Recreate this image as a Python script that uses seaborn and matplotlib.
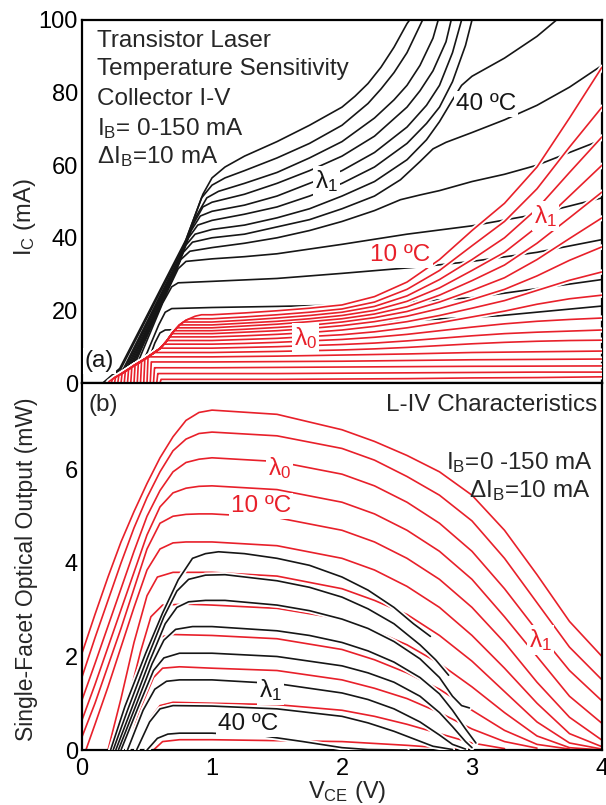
import numpy as np
import matplotlib
matplotlib.use("Agg")
import matplotlib.pyplot as plt
import seaborn as sns

sns.set_style("white")
plt.rcParams['font.family'] = ['Liberation Sans', 'DejaVu Sans']
plt.rcParams['mathtext.fontset'] = 'custom'
plt.rcParams['mathtext.rm'] = 'Liberation Sans'
plt.rcParams['mathtext.it'] = 'Liberation Sans:italic'
plt.rcParams['mathtext.bf'] = 'Liberation Sans:bold'
plt.rcParams['mathtext.default'] = 'regular'

# ---------------- (a) collector I-V, 40 C (black) ----------------
TB_V = [
    [0.16, 0.29, 0.80, 0.93, 1.00, 1.10, 1.25, 1.50, 1.75, 2.00, 2.10, 2.20, 2.30, 2.40, 2.50, 2.52],
    [0.18, 0.30, 0.78, 0.92, 1.00, 1.10, 1.25, 1.50, 1.75, 2.00, 2.10, 2.20, 2.30, 2.40, 2.50, 2.62],
    [0.20, 0.32, 0.76, 0.88, 0.96, 1.05, 1.25, 1.50, 1.75, 2.00, 2.25, 2.40, 2.50, 2.60, 2.70, 2.74],
    [0.21, 0.33, 0.74, 0.86, 0.93, 1.00, 1.25, 1.50, 1.75, 2.00, 2.25, 2.50, 2.60, 2.70, 2.80, 2.84],
    [0.22, 0.34, 0.72, 0.84, 0.91, 1.00, 1.25, 1.50, 1.75, 2.00, 2.25, 2.50, 2.65, 2.75, 2.85, 2.92],
    [0.23, 0.35, 0.70, 0.82, 0.89, 1.00, 1.25, 1.50, 1.75, 2.00, 2.25, 2.50, 2.65, 2.75, 2.85, 2.95, 3.00],
    [0.24, 0.36, 0.69, 0.80, 0.87, 1.00, 1.25, 1.50, 1.75, 2.00, 2.25, 2.50, 2.65, 2.75, 2.85, 2.92, 3.00, 3.25, 3.50, 3.65],
    [0.25, 0.37, 0.68, 0.78, 0.85, 1.00, 1.25, 1.50, 1.75, 2.00, 2.25, 2.45, 2.60, 2.70, 2.80, 3.00, 3.25, 3.50, 3.75, 4.00],
    [0.26, 0.38, 0.67, 0.76, 0.83, 1.00, 1.25, 1.50, 1.75, 2.00, 2.25, 2.45, 2.60, 2.75, 3.00, 3.25, 3.50, 3.75, 4.00],
    [0.27, 0.39, 0.66, 0.74, 0.80, 1.00, 1.25, 1.50, 2.00, 2.50, 3.00, 3.50, 4.00],
    [0.29, 0.41, 0.62, 0.69, 0.74, 1.00, 1.50, 2.00, 2.60, 3.00, 3.50, 4.00],
    [0.33, 0.45, 0.59, 0.64, 0.69, 1.00, 1.50, 2.20, 3.00, 4.00],
    [0.37, 0.49, 0.56, 0.60, 0.64, 1.00, 2.00, 3.20, 4.00],
]
TB_I = [
    [0, 4, 39.5, 52, 56.5, 59.5, 62.5, 66.5, 71, 76, 79, 82.5, 87, 92.5, 99, 100],
    [0, 4, 37.5, 51, 54.5, 56.5, 58.5, 62, 66, 71, 74, 77, 81, 85.5, 91, 100],
    [0, 4, 35.5, 46, 51, 52.8, 55, 58, 62, 66.5, 73, 78, 82, 87.5, 95, 100],
    [0, 4, 33.5, 44, 48.5, 49.8, 52, 55, 58.5, 62.5, 68, 76, 80.5, 86, 94, 100],
    [0, 4, 31.5, 42, 46, 47.3, 49, 51.5, 55, 58.5, 63.5, 70.5, 76.5, 82, 91, 100],
    [0, 4, 29.5, 40, 43.5, 44.8, 46.5, 48.5, 51.5, 55, 59.5, 66, 71.5, 76, 83, 93, 100],
    [0, 4, 28.5, 38, 41, 42.3, 43.5, 45.5, 48, 51.5, 55.5, 61.5, 67, 72, 78, 82, 84.5, 89.5, 95.5, 100],
    [0, 4, 27.5, 36, 38.8, 40, 41, 43, 45, 48, 51.5, 56, 61, 64.5, 66.3, 69, 72.5, 76.5, 81.5, 87.5],
    [0, 4, 26.5, 34, 36.3, 37.3, 38.5, 40, 42, 44.5, 47.5, 50.5, 51.8, 53, 55.5, 57.5, 60, 63.5, 67],
    [0, 4, 25.5, 31.5, 33.5, 34.2, 34.8, 35.6, 38.2, 41, 43.3, 46.5, 51],
    [0, 4, 22, 26.5, 27.6, 28, 28.8, 30.2, 32, 33.5, 36, 39.5],
    [0, 4, 16, 19.5, 20.5, 20.8, 21.1, 21.6, 23.5, 28.5],
    [0, 4, 11, 13.8, 14.6, 15, 16.2, 18.5, 21.2],
]

# ---------------- (a) collector I-V, 10 C (red) ----------------
RED_START_V = [0.6, 0.575, 0.55, 0.525, 0.5, 0.475, 0.45, 0.425, 0.4, 0.375,
               0.35, 0.325, 0.3, 0.275, 0.25, 0.225, 0.2]
RED_RISE_TOP = [1.0, 2.6, 4.2, 5.8, 7.0, 6.4, 5.9, 5.3, 4.8, 4.2,
                3.6, 3.1, 2.5, 2.0, 1.5, 0.9, 0.4]
RED_KNEE_V = [0.61, 0.585, 0.56, 0.535, 0.52, 0.56, 0.61, 0.63, 0.655, 0.675,
              0.69, 0.71, 0.73, 0.75, 0.78, 0.83, 0.92]
RED_ENV_V = [0.25, 0.3, 0.4, 0.5, 0.6, 0.65, 0.7, 0.75, 0.8, 0.87]
RED_ENV_I = [1.5, 2.5, 4.8, 7.0, 9.5, 11.5, 14.0, 16.0, 17.3, 18.4]
RED_V = [1.0, 1.25, 1.5, 1.75, 2.0, 2.25, 2.5, 2.75, 3.0, 3.25, 3.5, 3.75, 4.0]
RED_I = [
    [1.0, 1.0, 1.0, 1.05, 1.1, 1.15, 1.2, 1.3, 1.4, 1.45, 1.5, 1.6, 1.7],
    [2.6, 2.6, 2.6, 2.65, 2.7, 2.75, 2.8, 2.85, 2.9, 2.95, 3.0, 3.0, 3.0],
    [4.2, 4.25, 4.3, 4.35, 4.4, 4.45, 4.5, 4.55, 4.6, 4.62, 4.65, 4.68, 4.7],
    [5.8, 5.85, 5.9, 5.95, 6.0, 6.1, 6.2, 6.3, 6.4, 6.45, 6.5, 6.55, 6.6],
    [7.2, 7.3, 7.4, 7.55, 7.7, 7.85, 8.0, 8.2, 8.4, 8.5, 8.6, 8.7, 8.8],
    [8.4, 8.55, 8.7, 8.9, 9.1, 9.4, 9.8, 10.3, 10.8, 11.2, 11.5, 11.7, 11.8],
    [9.6, 9.8, 10.0, 10.3, 10.6, 11.0, 11.6, 12.3, 13.0, 13.6, 14.0, 14.3, 14.6],
    [10.7, 10.9, 11.2, 11.6, 12.0, 12.6, 13.4, 14.4, 15.4, 16.3, 17.0, 17.5, 17.9],
    [11.7, 12.0, 12.3, 12.8, 13.3, 14.1, 15.2, 16.6, 18.2, 19.8, 21.7, 23.2, 24.2],
    [12.7, 13.0, 13.4, 13.9, 14.6, 15.6, 16.9, 18.6, 20.6, 22.7, 25.5, 28.3, 30.6],
    [13.6, 14.0, 14.4, 15.0, 15.8, 16.9, 18.4, 20.5, 23.0, 25.8, 29.5, 33.8, 37.5],
    [14.4, 14.8, 15.3, 15.9, 16.8, 18.0, 19.7, 22.3, 25.5, 29.0, 34.0, 39.8, 45.5],
    [15.2, 15.7, 16.2, 16.9, 17.7, 19.0, 21.0, 24.2, 28.2, 32.5, 38.5, 45.5, 52.6],
    [16.0, 16.5, 17.0, 17.7, 18.6, 20.0, 22.5, 26.2, 31.0, 36.0, 43.0, 51.5, 60.0],
    [16.8, 17.3, 17.9, 18.6, 19.5, 21.1, 24.0, 28.5, 34.0, 40.0, 48.0, 58.0, 67.8],
    [17.7, 18.2, 18.8, 19.5, 20.4, 22.3, 25.8, 31.0, 37.8, 44.5, 53.5, 65.0, 76.0],
    [18.8, 19.3, 19.9, 20.6, 21.5, 23.8, 27.8, 34.0, 42.0, 49.5, 59.5, 73.0, 87.0],
]

# ---------------- (b) L-IV, 10 C (red) ----------------
BR_GRID = [0.0, 0.1, 0.2, 0.3, 0.4, 0.5, 0.6, 0.7, 0.8, 0.9, 1.0, 1.5, 2.0, 2.25,
           2.5, 2.75, 3.0, 3.25, 3.5, 3.75, 4.0]
BR_V = [
    BR_GRID, BR_GRID, BR_GRID, BR_GRID, BR_GRID,
    [0.03, 0.1, 0.2, 0.3, 0.4, 0.5, 0.6, 0.7, 0.8, 0.9, 1.0, 1.5, 2.0, 2.25, 2.5, 2.75, 3.0, 3.25, 3.5, 3.75, 4.0],
    [0.2, 0.3, 0.4, 0.5, 0.58, 0.7, 1.0, 1.5, 2.0, 2.25, 2.5, 2.75, 3.0, 3.25, 3.5, 3.75, 4.0],
    [0.25, 0.35, 0.45, 0.53, 0.62, 0.8, 1.0, 1.5, 2.0, 2.25, 2.5, 2.75, 3.0, 3.25, 3.5, 3.75, 4.0],
    [0.3, 0.4, 0.5, 0.57, 0.7, 1.0, 1.5, 2.0, 2.25, 2.5, 2.75, 3.0, 3.25, 3.5, 3.75],
    [0.35, 0.45, 0.55, 0.62, 0.75, 1.0, 1.5, 2.0, 2.25, 2.5, 2.75, 3.0, 3.25, 3.5],
    [0.42, 0.52, 0.6, 0.7, 1.0, 1.5, 2.0, 2.25, 2.5, 2.75, 3.0, 3.25],
    [0.55, 0.62, 0.75, 1.0, 1.5, 2.0, 2.5, 2.75, 3.0],
]
BR_L = [
    [2.07, 2.9, 3.7, 4.45, 5.1, 5.7, 6.25, 6.7, 7.05, 7.22, 7.27, 7.18, 6.85, 6.6, 6.3, 5.95, 5.45, 4.7, 3.75, 2.75, 2.0],
    [1.56, 2.4, 3.2, 4.0, 4.75, 5.4, 5.95, 6.4, 6.65, 6.77, 6.8, 6.72, 6.45, 6.2, 5.85, 5.45, 4.9, 4.1, 3.15, 2.2, 1.5],
    [1.07, 1.85, 2.65, 3.45, 4.25, 5.0, 5.55, 5.95, 6.15, 6.22, 6.25, 6.17, 5.9, 5.65, 5.3, 4.85, 4.25, 3.45, 2.55, 1.7, 1.05],
    [0.64, 1.4, 2.2, 3.0, 3.8, 4.6, 5.2, 5.5, 5.6, 5.64, 5.65, 5.57, 5.3, 5.05, 4.7, 4.25, 3.65, 2.85, 2.0, 1.15, 0.57],
    [0.28, 1.0, 1.8, 2.6, 3.45, 4.3, 4.85, 5.0, 5.04, 5.05, 5.05, 4.97, 4.7, 4.45, 4.1, 3.65, 3.05, 2.3, 1.45, 0.7, 0.21],
    [0.0, 0.55, 1.35, 2.2, 3.05, 3.85, 4.3, 4.43, 4.45, 4.45, 4.45, 4.37, 4.1, 3.85, 3.5, 3.05, 2.45, 1.75, 1.0, 0.35, 0.07],
    [0.0, 1.1, 2.3, 3.3, 3.7, 3.8, 3.8, 3.72, 3.45, 3.2, 2.9, 2.45, 1.9, 1.25, 0.6, 0.15, 0.02],
    [0.0, 1.0, 2.1, 2.85, 3.1, 3.12, 3.1, 3.03, 2.8, 2.55, 2.25, 1.85, 1.35, 0.8, 0.3, 0.05, 0.0],
    [0.0, 1.0, 1.95, 2.4, 2.47, 2.45, 2.38, 2.15, 1.93, 1.65, 1.3, 0.85, 0.42, 0.12, 0.02],
    [0.0, 0.9, 1.55, 1.75, 1.78, 1.75, 1.7, 1.5, 1.32, 1.1, 0.8, 0.45, 0.18, 0.04],
    [0.0, 0.65, 0.95, 1.02, 1.0, 0.97, 0.85, 0.72, 0.55, 0.35, 0.15, 0.03],
    [0.0, 0.18, 0.22, 0.22, 0.2, 0.18, 0.1, 0.05, 0.01],
]

# ---------------- (b) L-IV, 40 C (black) ----------------
BB_V = [
    [0.22, 0.33, 0.49, 0.62, 0.74, 0.85, 0.95, 1.05, 1.25, 1.5, 1.75, 2.0, 2.2, 2.4, 2.55, 2.68],
    [0.24, 0.35, 0.5, 0.63, 0.73, 0.82, 0.95, 1.1, 1.5, 1.75, 2.0, 2.2, 2.4, 2.6, 2.72, 2.82],
    [0.26, 0.37, 0.52, 0.64, 0.73, 0.82, 0.95, 1.1, 1.5, 1.75, 2.0, 2.2, 2.4, 2.6, 2.75, 2.85, 2.92, 2.98],
    [0.28, 0.4, 0.54, 0.63, 0.72, 0.85, 1.0, 1.5, 1.75, 2.0, 2.2, 2.4, 2.6, 2.75, 2.85, 2.95, 3.03],
    [0.3, 0.43, 0.55, 0.63, 0.75, 1.0, 1.5, 2.0, 2.2, 2.4, 2.6, 2.75, 2.85, 2.95, 3.0],
    [0.35, 0.47, 0.56, 0.65, 0.75, 1.0, 1.5, 2.0, 2.2, 2.4, 2.6, 2.75, 2.85, 2.95],
    [0.42, 0.52, 0.6, 0.7, 1.0, 1.5, 2.0, 2.2, 2.4, 2.55, 2.7, 2.85],
    [0.5, 0.58, 0.66, 0.75, 1.0, 1.4, 1.7, 2.0, 2.2, 2.5],
]
BB_L = [
    [0, 0.93, 2.07, 2.93, 3.64, 4.1, 4.2, 4.24, 4.2, 4.1, 3.95, 3.7, 3.42, 3.05, 2.7, 2.43],
    [0, 0.85, 1.95, 2.85, 3.4, 3.65, 3.74, 3.75, 3.62, 3.48, 3.27, 3.02, 2.7, 2.25, 1.93, 1.6],
    [0, 0.8, 1.9, 2.7, 3.05, 3.17, 3.2, 3.2, 3.1, 2.98, 2.8, 2.6, 2.32, 1.95, 1.55, 1.15, 0.95, 0.9],
    [0, 0.85, 1.85, 2.35, 2.58, 2.64, 2.64, 2.55, 2.45, 2.3, 2.12, 1.88, 1.55, 1.2, 0.85, 0.45, 0.15],
    [0, 0.9, 1.7, 1.97, 2.07, 2.07, 2.0, 1.8, 1.65, 1.45, 1.15, 0.8, 0.5, 0.18, 0.05],
    [0, 0.85, 1.3, 1.47, 1.5, 1.5, 1.42, 1.22, 1.08, 0.88, 0.6, 0.32, 0.12, 0.02],
    [0, 0.6, 0.88, 0.95, 0.94, 0.88, 0.72, 0.58, 0.4, 0.24, 0.08, 0.01],
    [0, 0.25, 0.34, 0.36, 0.36, 0.3, 0.18, 0.05, 0.01, 0.0],
]

RED = '#e8202a'
BLK = '#161616'
LW = 1.2
HALO = 3.8


def add_curve(ax, v, y, color, lw, z):
    sns.lineplot(x=np.asarray(v, float), y=np.asarray(y, float), ax=ax,
                 color=color, linewidth=lw, sort=False, estimator=None,
                 legend=False, zorder=z)
    ln = ax.lines[-1]
    ln.set_solid_capstyle('round')
    ln.set_solid_joinstyle('round')


def red_top_curve(k):
    c = RED_START_V[k]
    lev = RED_I[k][0]
    vs = [c, c + 0.008]
    ys = [0.0, RED_RISE_TOP[k]]
    for ev, ei in zip(RED_ENV_V, RED_ENV_I):
        if ev > c + 0.008 and ei < lev:
            vs.append(ev)
            ys.append(ei)
    vs.append(RED_KNEE_V[k])
    ys.append(lev)
    vs += RED_V
    ys += RED_I[k]
    return vs, ys


W, H = 606, 805
fig = plt.figure(figsize=(W / 100, H / 100), dpi=100)
ax1 = fig.add_axes([82 / W, 1 - 383 / H, 520 / W, 363 / H])
ax2 = fig.add_axes([82 / W, 1 - 750 / H, 520 / W, 367 / H])

# ---- panel (a): black first, then red with white halo on top
for v, y in zip(TB_V, TB_I):
    add_curve(ax1, v, y, BLK, LW, 2)
for k in range(len(RED_I)):
    v, y = red_top_curve(k)
    add_curve(ax1, v, y, 'white', HALO, 3)
for k in range(len(RED_I)):
    v, y = red_top_curve(k)
    add_curve(ax1, v, y, RED, LW, 4)

# ---- panel (b): red first, then black with white halo on top
for v, y in zip(BR_V, BR_L):
    add_curve(ax2, v, y, RED, LW, 2)
for v, y in zip(BB_V, BB_L):
    add_curve(ax2, v, y, 'white', HALO, 3)
for v, y in zip(BB_V, BB_L):
    add_curve(ax2, v, y, BLK, LW, 4)

FS = 17
box = dict(boxstyle='square,pad=0.08', fc='white', ec='none')

for ax in (ax1, ax2):
    ax.set_xlim(0, 4)
    for s in ax.spines.values():
        s.set_linewidth(1.6)
        s.set_color('black')
    ax.tick_params(axis='both', direction='in', length=4.5, width=1.2,
                   labelsize=FS, colors='black')
    ax.tick_params(axis='y', pad=3)
    ax.tick_params(axis='x', pad=6)
    ax.set_xticks([0, 1, 2, 3, 4])
    ax.set_xlabel('')
    ax.set_ylabel('')

ax1.set_ylim(0, 100)
ax1.set_yticks([0, 20, 40, 60, 80, 100])
ax1.tick_params(axis='x', labelbottom=False)
ax2.set_ylim(0, 7.85)
ax2.set_yticks([0, 2, 4, 6])
ax2.set_xticklabels(['0', '1', '2', '3', '4'])

ax1.set_ylabel('I$_C$ (mA)', fontsize=FS)
ax1.yaxis.set_label_coords(-0.085, 0.457)
ax2.set_ylabel('Single-Facet Optical Output (mW)', fontsize=16.5)
ax2.yaxis.set_label_coords(-0.085, 0.493)
ax2.set_xlabel('V$_{CE}$ (V)', fontsize=FS)
ax2.xaxis.set_label_coords(0.51, -0.078)

# ---- texts panel (a)
tx = dict(fontsize=17.5, va='baseline', zorder=10)
ax1.text(0.115, 92.5, 'Transistor Laser', **tx)
ax1.text(0.115, 84.8, 'Temperature Sensitivity', **tx)
ax1.text(0.115, 76.6, 'Collector I-V', **tx)
ax1.text(0.115, 68.3, 'I$_B$= 0-150 mA', **tx)
ax1.text(0.115, 60.5, 'ΔI$_B$=10 mA', **tx)
ax1.text(3.11, 75.2, '40 ºC', ha='center', color=BLK, bbox=box, **tx)
ax1.text(1.79, 53.6, 'λ$_1$', ha='left', color=BLK, bbox=box, **tx)
ax1.text(2.45, 33.6, '10 ºC', ha='center', color=RED, bbox=box, **tx)
ax1.text(3.48, 44.0, 'λ$_1$', ha='left', color=RED, bbox=box, **tx)
ax1.text(1.63, 10.5, 'λ$_0$', ha='left', color=RED, bbox=box, **tx)
ax1.text(0.023, 4.4, '(a)', ha='left', color=BLK, bbox=box, **tx)

# ---- texts panel (b)
ax2.text(0.05, 7.26, '(b)', ha='left', **tx)
ax2.text(3.96, 7.26, 'L-IV Characteristics', ha='right', **tx)
ax2.text(3.93, 6.0, 'I$_B$=0 -150 mA', ha='right', **tx)
ax2.text(3.91, 5.4, 'ΔI$_B$=10 mA', ha='right', **tx)
ax2.text(1.43, 5.89, 'λ$_0$', ha='left', color=RED, bbox=box, **tx)
ax2.text(1.38, 5.1, '10 ºC', ha='center', color=RED, bbox=box, **tx)
ax2.text(3.44, 2.21, 'λ$_1$', ha='left', color=RED, bbox=box, **tx)
ax2.text(1.36, 1.14, 'λ$_1$', ha='left', color=BLK, bbox=box, **tx)
ax2.text(1.28, 0.43, '40 ºC', ha='center', color=BLK, bbox=box, **tx)

fig.savefig('out.png', dpi=100)
